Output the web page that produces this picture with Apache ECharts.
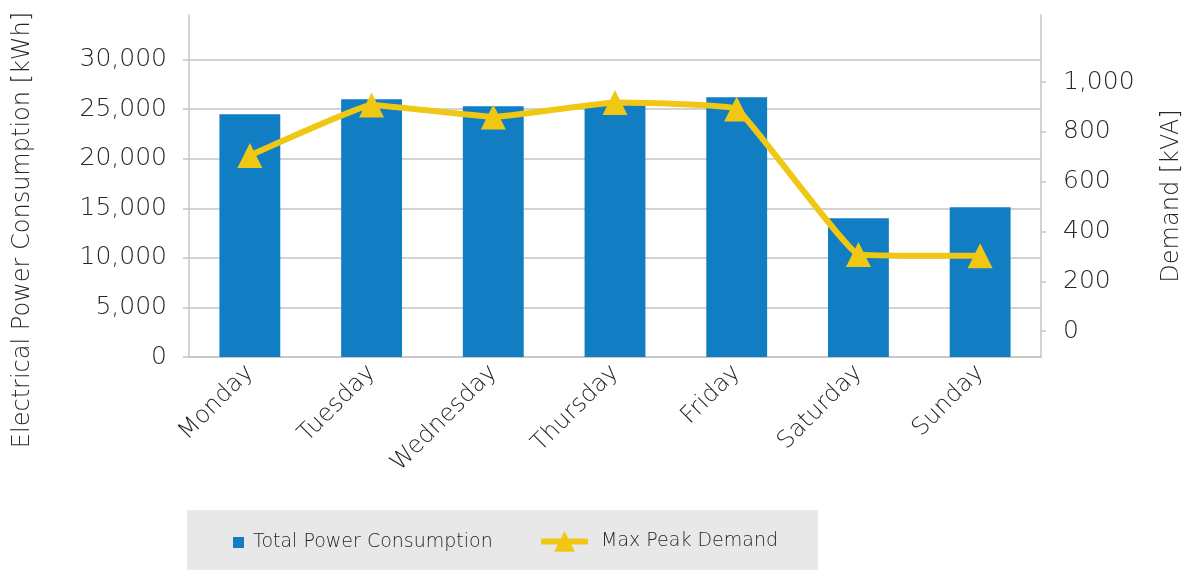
<!DOCTYPE html>
<html>
<head>
<meta charset="utf-8">
<script src="https://cdn.jsdelivr.net/npm/echarts@6/dist/echarts.min.js"></script>
<style>
  html, body { margin: 0; padding: 0; background: #fff; }
  #chart { width: 1189px; height: 570px; }
</style>
</head>
<body>
<div id="chart"></div>
<script>
const days = ['Monday', 'Tuesday', 'Wednesday', 'Thursday', 'Friday', 'Saturday', 'Sunday'];
const consumption = [24500, 26000, 25300, 25400, 26200, 14000, 15100];
const demand = [705, 908, 860, 918, 892, 308, 302];
const leftTicks = [0, 5000, 10000, 15000, 20000, 25000, 30000];
const rightTicks = [0, 200, 400, 600, 800, 1000];

const FONT = 'DejaVu Sans';
const TXT = '#262626';
const GRID = '#c4c4c4';
const BLUE = '#117dc2';
const YELLOW = '#f0c814';

const fmt = v => v.toLocaleString('en-US');

const option = {
  animation: false,
  textStyle: { fontFamily: FONT, color: TXT },
  grid: { left: 189, right: 148, top: 15, bottom: 213 },
  graphic: [
    { type: 'rect', shape: { x: 187, y: 510, width: 631, height: 60 }, style: { fill: '#e8e8e8' }, z: -1 },
    {
      type: 'text', x: 23, y: 230, rotation: Math.PI / 2,
      style: { text: 'Electrical Power Consumption [kWh]', font: '200 24px "DejaVu Sans"', fill: TXT, align: 'center', verticalAlign: 'middle' }
    },
    {
      type: 'text', x: 1172, y: 196, rotation: Math.PI / 2,
      style: { text: 'Demand [kVA]', font: '200 24px "DejaVu Sans"', fill: TXT, align: 'center', verticalAlign: 'middle' }
    }
  ],
  legend: [
    {
      data: [{ name: 'Total Power Consumption', icon: 'rect' }],
      left: 228, top: 528, itemWidth: 11, itemHeight: 11,
      textStyle: { fontFamily: FONT, fontSize: 19, fontWeight: 200, color: TXT, padding: [0, 0, 0, 4] }
    },
    {
      data: ['Max Peak Demand'],
      left: 533, top: 526, itemWidth: 47, itemHeight: 26,
      lineStyle: { width: 6 },
      textStyle: { fontFamily: FONT, fontSize: 19, fontWeight: 200, color: TXT, padding: [0, 0, 0, 8] }
    }
  ],
  xAxis: {
    type: 'category',
    data: days,
    axisLine: { lineStyle: { color: GRID, width: 1.5 } },
    axisTick: { length: 6, lineStyle: { color: GRID, width: 1.5 } },
    axisLabel: { rotate: 45, fontSize: 24, fontWeight: 200, color: TXT, margin: 12, interval: 0 }
  },
  yAxis: [
    {
      type: 'value', min: 0, max: 34500,
      axisLine: { show: true, lineStyle: { color: GRID, width: 1.5 } },
      axisTick: { show: true, length: 6, customValues: leftTicks, lineStyle: { color: GRID, width: 1.5 } },
      axisLabel: { customValues: leftTicks, formatter: fmt, fontSize: 25, fontWeight: 200, color: TXT, margin: 22 },
      splitLine: { show: true, lineStyle: { color: GRID, width: 1.5 } }
    },
    {
      type: 'value', min: -104, max: 1269, position: 'right',
      axisLine: { show: true, lineStyle: { color: GRID, width: 1.5 } },
      axisTick: { show: true, length: 5, customValues: rightTicks, lineStyle: { color: GRID, width: 1.5 } },
      axisLabel: { customValues: rightTicks, formatter: fmt, fontSize: 25, fontWeight: 200, color: TXT, margin: 22 },
      splitLine: { show: false }
    }
  ],
  series: [
    {
      name: 'Total Power Consumption',
      type: 'bar',
      data: consumption,
      barWidth: '50%',
      itemStyle: { color: BLUE }
    },
    {
      name: 'Max Peak Demand',
      type: 'line',
      yAxisIndex: 1,
      data: demand,
      smooth: 0.08,
      symbol: 'triangle',
      symbolSize: 25,
      lineStyle: { color: YELLOW, width: 6 },
      itemStyle: { color: YELLOW }
    }
  ]
};

const myChart = echarts.init(document.getElementById('chart'));
myChart.setOption(option);
window.addEventListener('resize', function () {
  myChart.resize();
});
</script>
</body>
</html>
